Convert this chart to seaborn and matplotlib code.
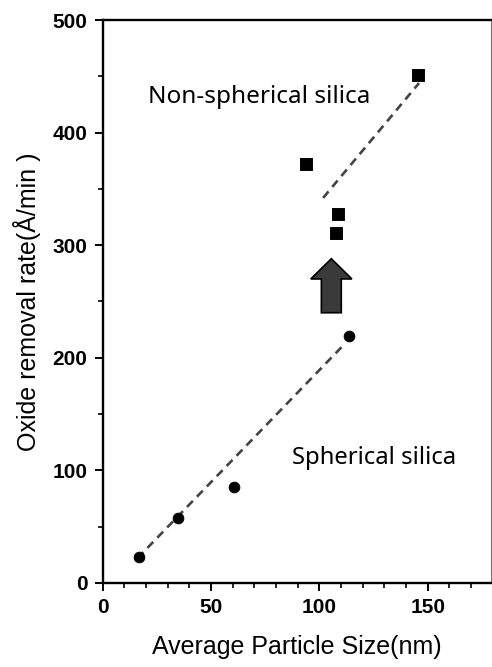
import numpy as np
import pandas as pd
import matplotlib
matplotlib.use('Agg')
import matplotlib.pyplot as plt
from matplotlib.patches import FancyArrow
from matplotlib.ticker import MultipleLocator
import seaborn as sns

# data
sph_size = [16.6, 34.5, 60.6, 113.7]
sph_rate = [23, 58, 85, 219]
nonsph_size = [93.7, 107.8, 108.6, 145.5]
nonsph_rate = [372, 311, 328, 451]

# hand drawn trend lines (end points)
sph_fit_x = [16, 112]
sph_fit_y = [22, 213]
nonsph_fit_x = [101.7, 146]
nonsph_fit_y = [342, 444]

sns.set_style('ticks')
plt.rcParams['font.family'] = ['Liberation Sans', 'DejaVu Sans']
plt.rcParams['text.color'] = 'black'
plt.rcParams['axes.labelcolor'] = 'black'
plt.rcParams['xtick.color'] = 'black'
plt.rcParams['ytick.color'] = 'black'

fig = plt.figure(figsize=(4.92, 6.67), dpi=100)
ax = fig.add_axes([0.209, 0.126, 0.788, 0.844])

df_sph = pd.DataFrame({'size': sph_size, 'rate': sph_rate})
df_non = pd.DataFrame({'size': nonsph_size, 'rate': nonsph_rate})

sns.lineplot(x=sph_fit_x, y=sph_fit_y, color='#444444', lw=1.9,
             linestyle=(0, (3.2, 2.2)), ax=ax)
sns.lineplot(x=nonsph_fit_x, y=nonsph_fit_y, color='#444444', lw=1.9,
             linestyle=(0, (3.2, 2.2)), ax=ax)
sns.scatterplot(data=df_sph, x='size', y='rate', marker='o', s=60,
                color='black', edgecolor='black', ax=ax, zorder=3)
sns.scatterplot(data=df_non, x='size', y='rate', marker='s', s=70,
                color='black', edgecolor='black', ax=ax, zorder=3)

# big up arrow between the groups
ax.add_patch(FancyArrow(105.5, 240, 0, 48, width=9.2, head_width=19,
                        head_length=18, length_includes_head=True,
                        facecolor='#3a3a3a', edgecolor='black', lw=1.2))

ax.text(20.8, 432, 'Non-spherical silica', fontsize=17.5,
        family=['Noto Sans', 'DejaVu Sans'], va='center')
ax.text(87.5, 111, 'Spherical silica', fontsize=17.2,
        family=['Noto Sans', 'DejaVu Sans'], va='center')

ax.set_xlim(0, 179)
ax.set_ylim(0, 500)
ax.xaxis.set_major_locator(MultipleLocator(50))
ax.xaxis.set_minor_locator(MultipleLocator(10))
ax.yaxis.set_major_locator(MultipleLocator(100))
ax.yaxis.set_minor_locator(MultipleLocator(50))
ax.tick_params(which='major', direction='out', length=6, width=1.4,
               labelsize=15, pad=5)
ax.tick_params(which='minor', direction='out', length=3.5, width=1.2)
for lab in ax.get_xticklabels() + ax.get_yticklabels():
    lab.set_fontweight('bold')

for s in ['left', 'bottom', 'top']:
    ax.spines[s].set_linewidth(1.7)
    ax.spines[s].set_color('black')
ax.spines['right'].set_linewidth(0.8)
ax.spines['right'].set_color('#777777')

ax.set_xlabel('Average Particle Size(nm)', fontsize=18, labelpad=13)
ax.set_ylabel('Oxide removal rate(Å/min )', fontsize=18, labelpad=8)

plt.savefig('out.png', dpi=100)
